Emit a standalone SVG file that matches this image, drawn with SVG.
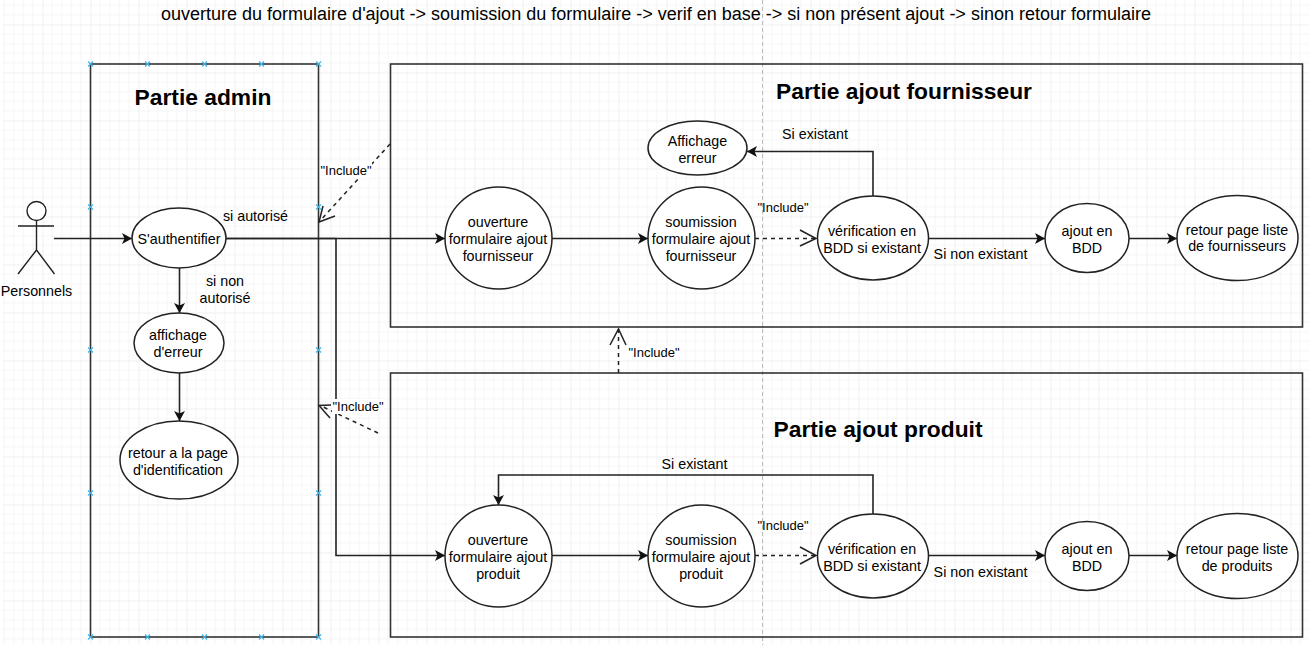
<svg xmlns="http://www.w3.org/2000/svg" width="1309" height="645" viewBox="0 0 1309 645">
<style>
text{font-family:"Liberation Sans",Arial,sans-serif;font-size:14.3px;fill:#000;text-anchor:middle}
.inc{font-size:13px}
.h{font-size:22.8px;font-weight:bold}
.top{font-size:18px}
.box{fill:none;stroke:#333;stroke-width:1.6}
.n{fill:#fff;stroke:#222;stroke-width:1.5}
.c{fill:none;stroke:#222;stroke-width:1.6}
.d{fill:none;stroke:#222;stroke-width:1.5;stroke-dasharray:4 4}
.o{fill:none;stroke:#222;stroke-width:1.5}
.x{stroke:#3db6ea;stroke-width:1.2;fill:none}
</style>
<defs>
<pattern id="g" x="42.5" y="24.5" width="48" height="48" patternUnits="userSpaceOnUse">
<path d="M9.6 0V48M19.2 0V48M28.8 0V48M38.4 0V48M0 9.6H48M0 19.2H48M0 28.8H48M0 38.4H48" stroke="#f5f5f5" stroke-width="1" fill="none"/>
<path d="M0 0V48M0 0H48" stroke="#e3e3e3" stroke-width="1" fill="none"/>
</pattern>
<marker id="a" markerUnits="userSpaceOnUse" markerWidth="12" markerHeight="12" refX="10" refY="5.500" orient="auto">
<path d="M0 0L10 5.500L0 11L2.500 5.500Z" fill="#111"/>
</marker>
<path id="m" d="M-2.5 -2.5L2.5 2.5M-2.5 2.5L2.5 -2.5"/>
</defs>
<rect width="1309" height="645" fill="#fff"/>
<rect x="2" y="0" width="1307" height="645" fill="url(#g)"/>
<path d="M762.5 0V645" stroke="#bbb" stroke-dasharray="4 3" fill="none"/>

<text class="top" x="656" y="20">ouverture du formulaire d'ajout -&gt; soumission du formulaire -&gt; verif en base -&gt; si non présent ajout -&gt; sinon retour formulaire</text>

<g id="admin">
<rect class="box" x="90.5" y="64" width="228" height="573"/>
<text class="h" x="203" y="105">Partie admin</text>
<g class="x">
<use href="#m" x="90.5" y="64"/><use href="#m" x="147.5" y="64"/><use href="#m" x="204.5" y="64"/><use href="#m" x="261.5" y="64"/><use href="#m" x="318.5" y="64"/>
<use href="#m" x="90.5" y="207"/><use href="#m" x="318.5" y="207"/>
<use href="#m" x="90.5" y="350"/><use href="#m" x="318.5" y="350"/>
<use href="#m" x="90.5" y="493"/><use href="#m" x="318.5" y="493"/>
<use href="#m" x="90.5" y="637"/><use href="#m" x="147.5" y="637"/><use href="#m" x="204.5" y="637"/><use href="#m" x="261.5" y="637"/><use href="#m" x="318.5" y="637"/>
</g>
</g>
<g id="fournisseur"><rect class="box" x="390.5" y="64" width="912" height="263"/>
<text class="h" x="904" y="99">Partie ajout fournisseur</text></g>
<g id="produit"><rect class="box" x="390.5" y="373" width="912" height="264"/>
<text class="h" x="878" y="437">Partie ajout produit</text></g>

<g id="connectors">
<path class="c" marker-end="url(#a)" d="M54 238.500H132"/>
<path class="c" marker-end="url(#a)" d="M226 238.500H445"/>
<path class="c" marker-end="url(#a)" d="M226 238.500H336V555.500H445"/>
<path class="c" marker-end="url(#a)" d="M179.500 268V313"/>
<path class="c" marker-end="url(#a)" d="M179.500 373V421"/>
<path class="c" marker-end="url(#a)" d="M552 238.500H648"/>
<path class="c" marker-end="url(#a)" d="M873 196V151.500H747"/>
<path class="c" marker-end="url(#a)" d="M928 238.500H1045"/>
<path class="c" marker-end="url(#a)" d="M1129 238.500H1177"/>
<path class="c" marker-end="url(#a)" d="M552 555.500H648"/>
<path class="c" marker-end="url(#a)" d="M873 514V475H498.500V505"/>
<path class="c" marker-end="url(#a)" d="M928 555.500H1045"/>
<path class="c" marker-end="url(#a)" d="M1129 555.500H1177"/>
<path class="d" d="M390 144L319 222"/><path class="o" d="M323 206L319 222L335 216"/>
<path class="d" d="M378 433L320 405.500"/><path class="o" d="M331 405L319 405.500L330 418"/>
<path class="d" d="M618.500 373V329"/><path class="o" d="M610 345L618.500 329L626 345"/>
<path class="d" d="M755 238.500H816"/><path class="o" d="M800 230L816 238.500L800 246"/>
<path class="d" d="M755 555.500H816"/><path class="o" d="M800 547L816 555.500L800 564"/>
</g>

<g id="actor" fill="none" stroke="#222" stroke-width="1.4">
<circle cx="36.500" cy="211" r="9.500" fill="#fff"/>
<path d="M36.500 220.500V250M18 226H54M36.500 250L18 274M36.500 250L54.500 274"/>
<text x="36.500" y="296" stroke="none">Personnels</text>
</g>

<g id="n-auth"><ellipse class="n" cx="179" cy="238" rx="47" ry="30"/><text x="179" y="244">S'authentifier</text></g>
<g id="n-err"><ellipse class="n" cx="179" cy="343" rx="45" ry="30"/><text x="178" y="340">affichage</text><text x="178" y="357">d'erreur</text></g>
<g id="n-ret"><ellipse class="n" cx="179" cy="460" rx="59" ry="39"/><text x="178" y="458">retour a la page</text><text x="178" y="475">d'identification</text></g>

<g id="f-ouv"><ellipse class="n" cx="498.500" cy="238" rx="53.500" ry="51"/><text x="498" y="227">ouverture</text><text x="498" y="244">formulaire ajout</text><text x="498" y="261">fournisseur</text></g>
<g id="f-sou"><ellipse class="n" cx="701.500" cy="238" rx="53.500" ry="51"/><text x="701" y="227">soumission</text><text x="701" y="244">formulaire ajout</text><text x="701" y="261">fournisseur</text></g>
<g id="f-err"><ellipse class="n" cx="697.500" cy="148" rx="49.500" ry="27"/><text x="697.500" y="146">Affichage</text><text x="697.500" y="163">erreur</text></g>
<g id="f-ver"><ellipse class="n" cx="873" cy="238" rx="55.500" ry="42"/><text x="872" y="236">vérification en</text><text x="872" y="253">BDD si existant</text></g>
<g id="f-add"><ellipse class="n" cx="1087" cy="238" rx="42" ry="34.500"/><text x="1087" y="236">ajout en</text><text x="1087" y="253">BDD</text></g>
<g id="f-ret"><ellipse class="n" cx="1237.500" cy="238" rx="60.500" ry="42.500"/><text x="1237" y="235">retour page liste</text><text x="1237" y="251">de fournisseurs</text></g>

<g id="p-ouv"><ellipse class="n" cx="498.500" cy="556" rx="53.500" ry="51"/><text x="498" y="545">ouverture</text><text x="498" y="562">formulaire ajout</text><text x="498" y="579">produit</text></g>
<g id="p-sou"><ellipse class="n" cx="701.500" cy="556" rx="53.500" ry="51"/><text x="701" y="545">soumission</text><text x="701" y="562">formulaire ajout</text><text x="701" y="579">produit</text></g>
<g id="p-ver"><ellipse class="n" cx="873" cy="556" rx="55.500" ry="42"/><text x="872" y="554">vérification en</text><text x="872" y="571">BDD si existant</text></g>
<g id="p-add"><ellipse class="n" cx="1087" cy="556" rx="42" ry="34.500"/><text x="1087" y="554">ajout en</text><text x="1087" y="571">BDD</text></g>
<g id="p-ret"><ellipse class="n" cx="1237.500" cy="556" rx="60.500" ry="42.500"/><text x="1237" y="554">retour page liste</text><text x="1237" y="571">de produits</text></g>

<g id="labels">
<text x="255.500" y="221">si autorisé</text>
<text x="225" y="286">si non</text><text x="225" y="303">autorisé</text>
<text x="815" y="139">Si existant</text>
<text x="694.500" y="469">Si existant</text>
<text x="980.500" y="259">Si non existant</text>
<text x="980.500" y="577">Si non existant</text>
<rect x="320" y="163" width="52" height="15" fill="#fff"/><text class="inc" x="346" y="175">"Include"</text>
<rect x="332" y="399" width="52" height="15" fill="#fff"/><text class="inc" x="358" y="411">"Include"</text>
<rect x="628" y="345" width="52" height="15" fill="#fff"/><text class="inc" x="654" y="357">"Include"</text>
<text class="inc" x="783" y="212">"Include"</text>
<text class="inc" x="783" y="530">"Include"</text>
</g>
</svg>
